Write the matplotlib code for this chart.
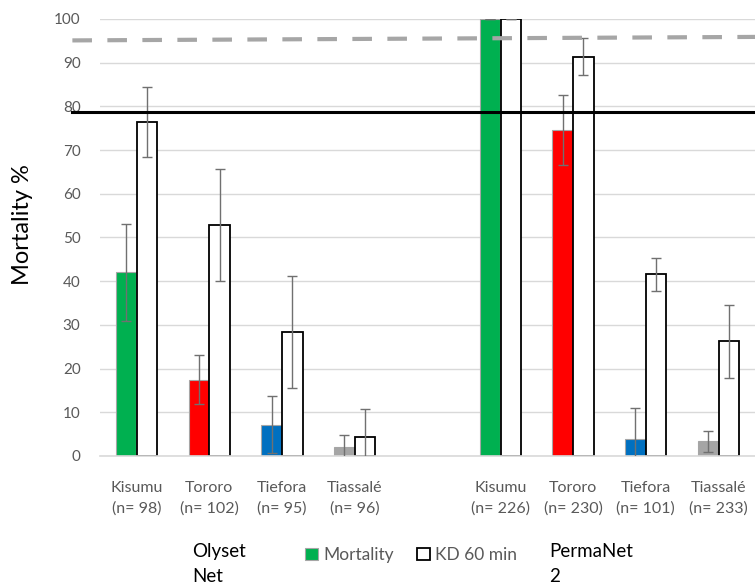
import numpy as np
import matplotlib.pyplot as plt

plt.rcParams['font.family'] = ['Lato', 'DejaVu Sans']

# data
sites = ["Kisumu", "Tororo", "Tiefora", "Tiassalé"]
olyset_n = [98, 102, 95, 96]
permanet_n = [226, 230, 101, 233]

olyset_mort = [42.0, 17.5, 7.2, 2.1]
olyset_mort_err = [11.0, 5.7, 6.5, 2.6]
olyset_kd = [76.5, 52.9, 28.4, 4.3]
olyset_kd_err = [8.0, 12.8, 12.8, 6.5]

permanet_mort = [100.0, 74.7, 3.8, 3.4]
permanet_mort_err = [0.0, 8.0, 7.2, 2.4]
permanet_kd = [100.0, 91.4, 41.6, 26.2]
permanet_kd_err = [0.0, 4.3, 3.8, 8.3]

solid_ref = 78.7
dashed_ref = [95.1, 95.9]

site_colors = ["#00b050", "#ff0000", "#0070c0", "#a5a5a5"]

# 4 olyset slots, one empty slot, 4 permanet slots
mort = olyset_mort + [np.nan] + permanet_mort
mort_err = olyset_mort_err + [0] + permanet_mort_err
kd = olyset_kd + [np.nan] + permanet_kd
kd_err = olyset_kd_err + [0] + permanet_kd_err
colors = site_colors + ["white"] + site_colors
labels = ["%s\n(n= %d)" % (s, n) for s, n in zip(sites, olyset_n)] + [""] + \
         ["%s\n(n= %d)" % (s, n) for s, n in zip(sites, permanet_n)]

x = np.arange(len(mort))
w = 0.28
off = 0.143

fig = plt.figure(figsize=(7.55, 5.88), dpi=100)
ax = fig.add_axes([0.1325, 0.2245, 0.8675, 0.7432])

ax.set_axisbelow(True)
ax.yaxis.grid(True, color="#d9d9d9", linewidth=1)

ok = ~np.isnan(mort)
mbars = ax.bar(x[ok] - off, np.array(mort)[ok], w, color=np.array(colors)[ok],
               edgecolor="#a6a6a6", linewidth=0.8, zorder=2)
kbars = ax.bar(x[ok] + off, np.array(kd)[ok], w, color="white",
               edgecolor="black", linewidth=1.3, zorder=2)
ax.errorbar(x[ok] - off, np.array(mort)[ok], yerr=np.array(mort_err)[ok], fmt="none",
            ecolor="#707070", elinewidth=1, capsize=3.5, capthick=1, zorder=3)
ax.errorbar(x[ok] + off, np.array(kd)[ok], yerr=np.array(kd_err)[ok], fmt="none",
            ecolor="#707070", elinewidth=1, capsize=3.5, capthick=1, zorder=3)

# reference lines, running a bit left of the plot area
x0 = -0.88
x1 = 8.5
ax.plot([x0, x1], [solid_ref, solid_ref], color="black", linewidth=2.2,
        clip_on=False, zorder=4)
ax.plot([x0, x1], dashed_ref, color="#a6a6a6", linewidth=3,
        dashes=(4.7, 3.7), clip_on=False, zorder=4)

ax.set_xlim(-0.5, 8.5)
ax.set_ylim(0, 100)
ax.set_yticks(range(0, 101, 10))
ax.set_xticks(x)
ax.set_xticklabels(labels, linespacing=1.55)
ax.tick_params(axis="x", length=0, pad=18, labelsize=11.5, labelcolor="#595959")
ax.tick_params(axis="y", length=0, pad=14, labelsize=11, labelcolor="#595959")
for s in ["top", "right", "left"]:
    ax.spines[s].set_visible(False)
ax.spines["bottom"].set_color("#d9d9d9")
ax.spines["bottom"].set_linewidth(1.2)

ax.set_ylabel("Mortality %", fontsize=17, color="black")
ax.yaxis.set_label_coords(-0.102, 0.53)

# legend row
fig.text(192 / 755, 1 - 564 / 588, "Olyset\nNet", fontsize=13.5, va="center",
         linespacing=1.6, ha="left")
fig.text(549 / 755, 1 - 564 / 588, "PermaNet\n2", fontsize=13.5, va="center",
         linespacing=1.6, ha="left")
leg = fig.legend([mbars[0], kbars[0]], ["Mortality", "KD 60 min"], ncol=2,
                 loc="center left", bbox_to_anchor=(296 / 755, 1 - 555 / 588),
                 frameon=False, fontsize=12.5, handlelength=0.75, handleheight=0.75,
                 handletextpad=0.3, columnspacing=1.35, borderpad=0)
for t in leg.get_texts():
    t.set_color("#595959")

fig.savefig("out.png", dpi=100)
